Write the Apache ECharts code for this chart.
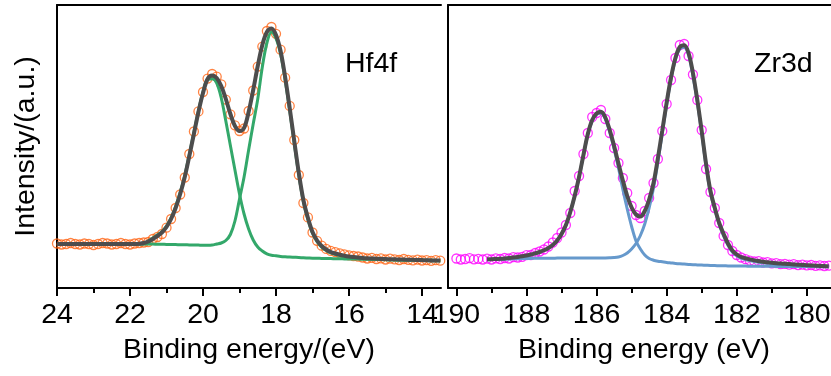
<!DOCTYPE html>
<html><head><meta charset="utf-8">
<script src="https://cdn.jsdelivr.net/npm/echarts@6/dist/echarts.min.js"></script>
<style>html,body{margin:0;padding:0;background:#fff}#c{width:831px;height:376px}</style>
</head><body><div id="c"></div>
<script>
// ---------- Hf4f panel ----------
const hfEnergy = [24, 23.875, 23.75, 23.625, 23.5, 23.375, 23.25, 23.125, 23, 22.875,
22.75, 22.625, 22.5, 22.375, 22.25, 22.125, 22, 21.875, 21.75, 21.625,
21.5, 21.375, 21.25, 21.125, 21, 20.875, 20.75, 20.625, 20.5, 20.375,
20.25, 20.125, 20, 19.875, 19.75, 19.625, 19.5, 19.375, 19.25, 19.125,
19, 18.875, 18.75, 18.625, 18.5, 18.375, 18.25, 18.125, 18, 17.875,
17.75, 17.625, 17.5, 17.375, 17.25, 17.125, 17, 16.875, 16.75, 16.625,
16.5, 16.375, 16.25, 16.125, 16, 15.875, 15.75, 15.625, 15.5, 15.375,
15.25, 15.125, 15, 14.875, 14.75, 14.625, 14.5, 14.375, 14.25, 14.125,
14, 13.875, 13.75, 13.625, 13.5];
const hfData = [44.5, 43.5, 44, 45, 44, 43.5, 44.5, 44, 43, 44, 45, 44.5, 43.5, 44, 45, 44, 43.5, 44.5, 45, 45.5,
46, 49, 51, 54, 60.3, 69, 80, 93.5, 110.5, 134,
156.5, 176.6, 196, 209.4, 214, 211.3, 203.7, 188.4, 173.7, 162.7,
157, 159.5, 177, 197.5, 221.4, 241.4, 257, 261, 254.2, 238.3,
210.3, 182.1, 148, 113, 85, 70.6, 55.5, 47.2, 42.3, 39.1,
37.1, 35.8, 34.7, 33.6, 32.7, 32, 31.5,
30.5, 29.5, 30.2, 29, 29.6, 28.5, 29.3, 28.6, 28, 29, 28.2, 27.6, 28.4, 27.5, 27.9, 27.2, 27.8, 27.3];
const hfEnvelope = [44, 44, 44, 44, 44, 44, 44, 44, 44, 44, 44, 44, 44, 44, 44, 44, 44, 44, 44.3, 45,
46.5, 49, 52, 55.5, 61, 69, 80, 94, 111, 132,
154, 176, 195, 209, 212.5, 210, 202, 189, 174, 162,
157, 160, 176, 198, 222, 243, 256, 259.5, 253, 237,
211, 180, 147, 115, 88, 70, 56, 47.5, 42, 38.5,
36, 34.5, 33.3, 32.3, 31.5, 30.9, 30.4,
30, 29.7, 29.5, 29.3, 29.1, 28.9, 28.8, 28.7, 28.5, 28.4, 28.3, 28.2, 28.0, 27.9, 27.8, 27.6, 27.5, 27.4];
const hfPeak1 = [44, 44, 44, 44, 44, 44, 44, 44, 44, 44, 44, 44, 44, 44, 44, 44, 44, 44, 44, 44,
47, 50, 53, 56.5, 62, 70, 81.5, 95.5, 112.5, 133.5,
155.5, 177, 196, 208.5, 209.2, 205, 190, 167, 142.5, 118,
94, 74, 59, 48, 41, 37, 34.2, 32.8, 32.2, 31.6,
31.2, 30.9, 30.7, 30.5, 30.2, 30, 29.8, 29.7, 29.6, 29.5,
29.4, 29.3, 29.2, 29.1, 29.0, 29.0, 28.9,
28.8, 28.7, 28.6, 28.5, 28.4, 28.3, 28.2, 28.1, 28.0, 28.0, 27.9, 27.9, 27.8, 27.8, 27.7, 27.7, 27.6, 27.6];
const hfPeak2 = [44, 44, 44, 44, 44, 44, 44, 44, 44, 44, 44, 44, 44, 44, 44, 44, 44, 44, 44, 44, 44,
43.9, 43.8, 43.7, 43.6, 43.5, 43.4, 43.3, 43.2, 43.1, 43, 42.9, 42.8, 42.8, 43,
44, 45, 47.5, 53.5, 67, 89, 111, 138, 164, 189, 221, 245, 256,
249.5, 234, 208.3, 177.6, 144.8, 113, 86.3, 68.5, 54.7, 46.3, 40.9, 37.5, 35.1, 33.7, 32.5, 31.6, 30.9, 30.3, 29.9,
29.5, 29.2, 29.0, 28.8, 28.6, 28.4, 28.3, 28.2, 28.0, 27.9, 27.8, 27.7, 27.6, 27.5, 27.4, 27.3, 27.2, 27.1];
const hfTicks = [24, 22, 20, 18, 16, 14];
const hfMinorTicks = [23, 21, 19, 17, 15];

// ---------- Zr3d panel ----------
const zrEnergy = [190, 189.875, 189.75, 189.625, 189.5, 189.375, 189.25, 189.125, 189, 188.875,
188.75, 188.625, 188.5, 188.375, 188.25, 188.125, 188, 187.875, 187.75, 187.625,
187.5, 187.375, 187.25, 187.125, 187, 186.875, 186.75, 186.625, 186.5, 186.375,
186.25, 186.125, 186, 185.875, 185.75, 185.625, 185.5, 185.375, 185.25, 185.125,
185, 184.875, 184.75, 184.625, 184.5, 184.375, 184.25, 184.125, 184, 183.875,
183.75, 183.625, 183.5, 183.375, 183.25, 183.125, 183, 182.875, 182.75, 182.625,
182.5, 182.375, 182.25, 182.125, 182, 181.875, 181.75, 181.625, 181.5, 181.375,
181.25, 181.125, 181, 180.875, 180.75, 180.625, 180.5, 180.375, 180.25, 180.125,
180, 179.875, 179.75, 179.625, 179.5, 179.375];
const zrData = [29.5, 28.5, 29, 29.8, 28.7, 29.2, 28.5,
29.3, 28.5, 29.6, 29, 30, 29.5, 30.8, 30.5, 31.2, 32.8,
33, 35, 36.5, 38.5, 41.5, 45.5, 50, 55.5, 63, 75,
97, 112, 134, 155, 171, 175, 178, 169, 155, 140,
125, 110, 95, 82, 73, 70, 77, 90, 105, 129,
157, 184, 208, 230, 243, 244, 232, 213.5, 188, 158,
119, 96, 80, 65, 52, 43, 37, 33, 30.5, 28.8,
27.3, 26.5, 26.8, 25.5, 25.8, 24.6, 24.9, 23.8, 24.2, 23.3, 23.8, 22.9, 23.3, 22.6, 23, 22.2, 22.6, 22, 22.4];
// fitted curves start at 189.125 eV (index 7 of zrEnergy)
const zrFitStart = 7;
const zrEnvelope = [28.7, 28.8, 29, 29.2, 29.5, 29.9, 30.4, 31, 31.7, 32.5,
33.5, 34.7, 36, 37.7, 40, 43, 47.5, 54, 63, 76,
92, 111, 133, 154, 168, 174.5, 176.2, 170.5, 158, 142,
124.5, 107.5, 92, 80.5, 73.5, 71.5, 77, 88.5, 105, 130,
157.5, 185.5, 210.5, 230, 241, 242.7, 235, 215, 188, 157,
124, 97, 80, 65, 54, 44.5, 37.5, 33.5, 31, 29.8,
28.6, 27.6, 26.9, 26.3, 25.7, 25.2, 24.8, 24.5, 24.2, 23.9, 23.6, 23.3, 23.1, 22.8, 22.6, 22.3, 22.1, 21.9, 21.7];
const zrPeak1 = [28.5, 28.6, 28.8, 29, 29.3, 29.7, 30.2, 30.8, 31.5, 32.3,
33.3, 34.5, 35.8, 37.5, 39.8, 42.8, 47.3, 53.8, 62.8, 75.8,
91.8, 110.8, 132.5, 153.3, 167, 173.5, 175, 169, 156, 139,
120, 98.5, 79, 61.5, 47, 39, 33, 29.5, 27.8, 26.8,
26.2, 25.6, 25.1, 24.6, 24.2, 23.9, 23.6, 23.3, 23.1, 22.9,
22.7, 22.5, 22.4, 22.3, 22.2, 22.1, 22, 22, 21.9, 21.9,
21.8, 21.8, 21.8, 21.7, 21.7, 21.7, 21.6, 21.6, 21.6, 21.5, 21.5, 21.5, 21.4, 21.4, 21.4, 21.4, 21.3, 21.3, 21.3];
const zrPeak2 = [28.3, 28.4, 28.5, 28.6, 28.8, 29, 29.2, 29.3, 29.4, 29.5,
29.6, 29.7, 29.7, 29.8, 29.8, 29.8, 29.9, 29.9, 29.9, 30,
30, 30, 30, 30, 30, 30, 30.1, 30.1, 30.2, 30.4,
31, 32.5, 35, 39, 44.5, 52.5, 64, 80, 100, 126,
155, 183.5, 209, 228.5, 239, 240.7, 233, 212, 186, 155,
122, 95, 78.5, 63.5, 52, 42.8, 36, 32.3, 30, 28.5,
27.4, 26.5, 25.8, 25.2, 24.7, 24.3, 23.9, 23.6, 23.3, 23, 22.8, 22.6, 22.4, 22.2, 22, 21.9, 21.8, 21.7, 21.6];
const zrTicks = [190, 188, 186, 184, 182, 180];
const zrMinorTicks = [189, 187, 185, 183, 181];

// ---------- chart ----------
const FONT = '"Liberation Sans", Arial, sans-serif';
const FS = 28.5;
const BLACK = { color: '#000', width: 2 };
function pairs(xs, ys, off) { off = off || 0; return ys.map((v, i) => [xs[i + off], v]); }

function mainX(g, min, max, ticks, name, namePad) {
  return { type: 'value', gridIndex: g, position: 'bottom', inverse: true, min: min, max: max,
    name: name, nameLocation: 'middle', nameGap: 48,
    nameTextStyle: { fontFamily: FONT, fontSize: FS, color: '#000', padding: namePad },
    axisLine: { show: true, onZero: false, lineStyle: BLACK },
    axisTick: { show: true, inside: false, length: 8, lineStyle: BLACK, customValues: ticks },
    axisLabel: { show: true, margin: 13, fontFamily: FONT, fontSize: FS, color: '#000', customValues: ticks },
    splitLine: { show: false } };
}
function minorX(g, min, max, ticks) {
  return { type: 'value', gridIndex: g, position: 'bottom', inverse: true, min: min, max: max,
    axisLine: { show: false, onZero: false },
    axisTick: { show: true, inside: false, length: 5, lineStyle: BLACK, customValues: ticks },
    axisLabel: { show: false, customValues: ticks }, splitLine: { show: false } };
}
function topX(g, min, max) {
  return { type: 'value', gridIndex: g, position: 'top', inverse: true, min: min, max: max,
    axisLine: { show: true, onZero: false, lineStyle: BLACK },
    axisTick: { show: false }, axisLabel: { show: false }, splitLine: { show: false } };
}
function yAx(g, name) {
  return { type: 'value', gridIndex: g, min: 0, max: 283, position: 'left',
    name: name, nameLocation: 'middle', nameGap: 16,
    nameTextStyle: { fontFamily: FONT, fontSize: FS, color: '#000' },
    axisLine: { show: true, onZero: false, lineStyle: BLACK },
    axisTick: { show: false }, axisLabel: { show: false }, splitLine: { show: false } };
}
function line(xi, yi, data, color, width, z) {
  return { type: 'line', xAxisIndex: xi, yAxisIndex: yi, data: data, symbol: 'none', showSymbol: false,
    smooth: 0.35, lineStyle: { color: color, width: width }, z: z, silent: true };
}
function dots(xi, yi, data, color) {
  return { type: 'scatter', xAxisIndex: xi, yAxisIndex: yi, data: data, symbol: 'circle', symbolSize: 9,
    itemStyle: { color: 'rgba(0,0,0,0)', borderColor: color, borderWidth: 1.3 }, z: 2, silent: true };
}

const hfMin = 13.48, hfMax = 24, zrMin = 179.31, zrMax = 190.24;
const GREEN = '#33A86A', BLUE = '#6699CC', GRAY = '#4D4D4D';

const chart = echarts.init(document.getElementById('c'), null, { renderer: 'canvas' });
chart.setOption({
  animation: false,
  backgroundColor: '#fff',
  title: [
    { text: 'Hf4f', left: 345, top: 50, padding: 0, textStyle: { fontFamily: FONT, fontSize: FS, fontWeight: 'normal', color: '#000' } },
    { text: 'Zr3d', left: 754, top: 50, padding: 0, textStyle: { fontFamily: FONT, fontSize: FS, fontWeight: 'normal', color: '#000' } }
  ],
  grid: [
    { left: 57, right: 390, top: 5, bottom: 88, containLabel: false, outerBoundsMode: 'none' },
    { left: 448, right: 0, top: 5, bottom: 88, containLabel: false, outerBoundsMode: 'none' }
  ],
  xAxis: [
    mainX(0, hfMin, hfMax, hfTicks, 'Binding energy/(eV)', [0, 0, 0, 0]),
    minorX(0, hfMin, hfMax, hfMinorTicks),
    topX(0, hfMin, hfMax),
    mainX(1, zrMin, zrMax, zrTicks, 'Binding energy (eV)', [0, 0, 0, 9]),
    minorX(1, zrMin, zrMax, zrMinorTicks),
    topX(1, zrMin, zrMax)
  ],
  yAxis: [ yAx(0, 'Intensity/(a.u.)'), yAx(1, '') ],
  series: [
    dots(0, 0, pairs(hfEnergy, hfData), '#FF6414'),
    line(0, 0, pairs(hfEnergy, hfPeak1), GREEN, 3, 3),
    line(0, 0, pairs(hfEnergy, hfPeak2), GREEN, 3, 3),
    line(0, 0, pairs(hfEnergy, hfEnvelope), GRAY, 4, 4),
    dots(3, 1, pairs(zrEnergy, zrData), '#FF00FF'),
    line(3, 1, pairs(zrEnergy, zrPeak1, zrFitStart), BLUE, 3, 3),
    line(3, 1, pairs(zrEnergy, zrPeak2, zrFitStart), BLUE, 3, 3),
    line(3, 1, pairs(zrEnergy, zrEnvelope, zrFitStart), GRAY, 4, 4)
  ]
});
</script></body></html>
